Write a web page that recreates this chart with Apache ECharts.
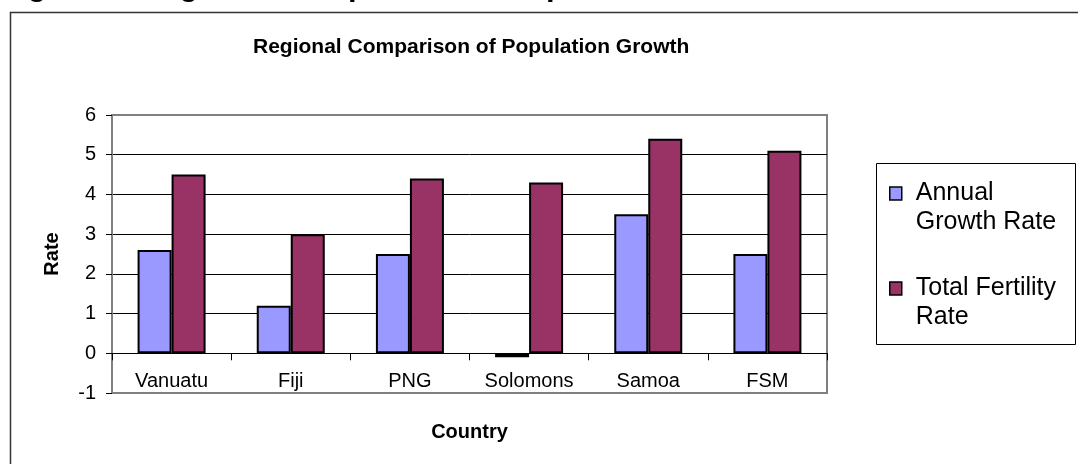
<!DOCTYPE html>
<html>
<head>
<meta charset="utf-8">
<title>Regional Comparison of Population Growth</title>
<script src="https://cdn.jsdelivr.net/npm/echarts@6/dist/echarts.min.js"></script>
<style>
  html, body { margin: 0; padding: 0; background: #fff; }
  #chart { width: 1078px; height: 464px; }
</style>
</head>
<body>
<div id="chart"></div>
<script>
// Country data: annual growth rate and total fertility rate
const countries = ['Vanuatu', 'Fiji', 'PNG', 'Solomons', 'Samoa', 'FSM'];
const annualGrowthRate = [2.6, 1.2, 2.5, -0.1, 3.5, 2.5];
const totalFertilityRate = [4.5, 3.0, 4.4, 4.3, 5.4, 5.1];
const yTicks = { min: -1, max: 6, step: 1 };

const FONT = '"Liberation Sans", Arial, sans-serif';

// Legend labels wrap onto two lines; a leading blank line keeps the
// swatch level with the first line of text.
const legendLabels = {
  'Annual Growth Rate': '\nAnnual\nGrowth Rate',
  'Total Fertility Rate': '\nTotal Fertility\nRate'
};

const chart = echarts.init(document.getElementById('chart'), null, { renderer: 'canvas' });

chart.setOption({
  backgroundColor: '#ffffff',
  animation: false,
  textStyle: { fontFamily: FONT, color: '#000' },
  title: {
    text: 'Regional Comparison of Population Growth',
    left: 253,
    top: 37,
    padding: 0,
    textStyle: { fontFamily: FONT, fontSize: 21, fontWeight: 'bold', color: '#000' }
  },
  graphic: [
    {
      type: 'text',
      x: 0,
      y: -14,
      silent: true,
      style: {
        text: 'Figure 1: Regional Comparison of Population Growth',
        font: 'bold 31px ' + FONT,
        fill: '#000',
        verticalAlign: 'middle'
      }
    },
    {
      type: 'rect',
      z: -10,
      silent: true,
      shape: { x: 10.5, y: 12.5, width: 1100, height: 500 },
      style: { fill: 'none', stroke: '#333', lineWidth: 1.5 }
    },
    {
      type: 'rect',
      z: -5,
      silent: true,
      shape: { x: 876.5, y: 163.5, width: 199, height: 181 },
      style: { fill: '#fff', stroke: '#000', lineWidth: 1 }
    }
  ],
  legend: {
    orient: 'vertical',
    left: 889,
    top: 150,
    padding: 0,
    itemGap: 8,
    itemWidth: 12,
    itemHeight: 13,
    icon: 'rect',
    itemStyle: { borderColor: '#000', borderWidth: 1.5 },
    formatter: function (name) { return legendLabels[name]; },
    textStyle: {
      fontFamily: FONT,
      fontSize: 25,
      lineHeight: 29,
      color: '#000',
      padding: [0, 0, 0, 9]
    },
    data: ['Annual Growth Rate', 'Total Fertility Rate']
  },
  grid: {
    left: 112,
    top: 115,
    right: 251,
    bottom: 71,
    show: true,
    borderColor: '#808080',
    borderWidth: 2,
    containLabel: false,
    outerBoundsMode: 'none'
  },
  xAxis: {
    type: 'category',
    data: countries,
    name: 'Country',
    nameLocation: 'middle',
    nameGap: 29,
    nameTextStyle: { fontFamily: FONT, fontSize: 20, fontWeight: 'bold', color: '#000' },
    axisLine: { onZero: true, lineStyle: { color: '#000', width: 1 } },
    axisTick: { show: true, interval: 0, length: 7, alignWithLabel: false, lineStyle: { color: '#000' } },
    axisLabel: { interval: 0, margin: -22, fontSize: 20, color: '#000', fontFamily: FONT },
    splitLine: { show: false }
  },
  yAxis: {
    type: 'value',
    min: yTicks.min,
    max: yTicks.max,
    interval: yTicks.step,
    name: 'Rate',
    nameLocation: 'middle',
    nameGap: 50,
    nameTextStyle: { fontFamily: FONT, fontSize: 20, fontWeight: 'bold', color: '#000' },
    axisLine: { show: true, lineStyle: { color: '#808080', width: 2 } },
    axisTick: { show: true, length: 6, lineStyle: { color: '#000' } },
    axisLabel: { margin: 16, fontSize: 20, color: '#000', fontFamily: FONT },
    splitLine: {
      show: true,
      lineStyle: {
        color: ['#808080', '#000', '#000', '#000', '#000', '#000', '#000', '#808080'],
        width: 1
      }
    }
  },
  series: [
    {
      name: 'Annual Growth Rate',
      type: 'bar',
      data: annualGrowthRate,
      barWidth: 34,
      barGap: '0%',
      itemStyle: { color: '#9999FF', borderColor: '#000', borderWidth: 2 }
    },
    {
      name: 'Total Fertility Rate',
      type: 'bar',
      data: totalFertilityRate,
      barWidth: 34,
      barGap: '0%',
      itemStyle: { color: '#993366', borderColor: '#000', borderWidth: 2 }
    }
  ]
});
</script>
</body>
</html>
